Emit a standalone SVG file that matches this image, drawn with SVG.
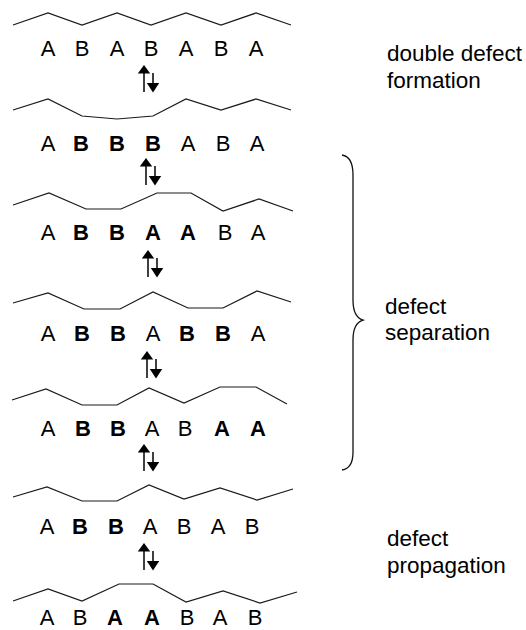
<svg xmlns="http://www.w3.org/2000/svg" xmlns:xlink="http://www.w3.org/1999/xlink" width="526" height="630" viewBox="0 0 526 630">
<style>
text{font-family:"Liberation Sans",Arial,Helvetica,sans-serif;fill:#000}
.r text{font-size:22px;text-anchor:middle}
.b{font-weight:bold}
.lbl{font-size:22.5px}
.chain{fill:none;stroke:#1a1a1a;stroke-width:1.2;stroke-linejoin:miter}
.brace{fill:none;stroke:#111;stroke-width:1.3}
</style>
<defs>
<g id="eq">
<line x1="0" y1="7" x2="0" y2="27" stroke="#000" stroke-width="1.5"/>
<polygon points="-6.2,8.5 0,0 6.2,8.5" fill="#000"/>
<line x1="9" y1="8" x2="9" y2="19" stroke="#000" stroke-width="1.5"/>
<polygon points="2.8,18 15.2,18 9,27.5" fill="#000"/>
</g>
</defs>

<g id="chains">
<polyline class="chain" points="13,25 48,13 82,25 117,13 151,25 186,13 221,25 256,13 291,25"/>
<polyline class="chain" points="13,110 48,99 82,116 117,119 153,116 186,99 221,110 256,99 291,110"/>
<polyline class="chain" points="13,205 49,193 86,209 121,209 157,193 191,193 223,211 259,199 293,211"/>
<polyline class="chain" points="13,303 48,293 84,309 120,309 153,292 188,308 223,308 257,291 291,302"/>
<polyline class="chain" points="12,400 46,389 82,405 117,405 149,388 184,403 220,387 256,387 287,404"/>
<polyline class="chain" points="13,497 47,487 82,501 117,501 149,485 184,499 220,488 257,500 293,489"/>
<polyline class="chain" points="13,601 48,589 82,601 119,584 153,584 186,602 223,591 260,603 297,592"/>
</g>

<g id="row1" class="r">
<text x="48" y="56">A</text><text x="82" y="56">B</text><text x="117" y="56">A</text><text x="151" y="56">B</text><text x="186" y="56">A</text><text x="221" y="56">B</text><text x="256" y="56">A</text>
</g>
<g id="row2" class="r">
<text x="48" y="151">A</text><text class="b" x="81" y="151">B</text><text class="b" x="117" y="151">B</text><text class="b" x="153" y="151">B</text><text x="188" y="151">A</text><text x="223" y="151">B</text><text x="257" y="151">A</text>
</g>
<g id="row3" class="r">
<text x="48" y="240">A</text><text class="b" x="81" y="240">B</text><text class="b" x="117" y="240">B</text><text class="b" x="153" y="240">A</text><text class="b" x="188" y="240">A</text><text x="225" y="240">B</text><text x="258" y="240">A</text>
</g>
<g id="row4" class="r">
<text x="48" y="341">A</text><text class="b" x="82" y="341">B</text><text class="b" x="118" y="341">B</text><text x="153" y="341">A</text><text class="b" x="187" y="341">B</text><text class="b" x="223" y="341">B</text><text x="258" y="341">A</text>
</g>
<g id="row5" class="r">
<text x="48" y="436">A</text><text class="b" x="83" y="436">B</text><text class="b" x="118" y="436">B</text><text x="152" y="436">A</text><text x="185" y="436">B</text><text class="b" x="222" y="436">A</text><text class="b" x="258" y="436">A</text>
</g>
<g id="row6" class="r">
<text x="47" y="534">A</text><text class="b" x="80" y="534">B</text><text class="b" x="116" y="534">B</text><text x="150" y="534">A</text><text x="184" y="534">B</text><text x="218" y="534">A</text><text x="252" y="534">B</text>
</g>
<g id="row7" class="r">
<text x="47" y="625">A</text><text x="80" y="625">B</text><text class="b" x="115" y="625">A</text><text class="b" x="152" y="625">A</text><text x="187" y="625">B</text><text x="220" y="625">A</text><text x="255" y="625">B</text>
</g>

<g id="connectors">
<use xlink:href="#eq" href="#eq" transform="translate(144,65)"/>
<use xlink:href="#eq" href="#eq" transform="translate(146,158)"/>
<use xlink:href="#eq" href="#eq" transform="translate(148,250)"/>
<use xlink:href="#eq" href="#eq" transform="translate(147,351)"/>
<use xlink:href="#eq" href="#eq" transform="translate(144,444)"/>
<use xlink:href="#eq" href="#eq" transform="translate(144,543)"/>
</g>

<g id="brace">
<path class="brace" d="M342,155 C349,156 353,162 353,175 L353,300 C353,312 356,318 363,320 C356,322 353,328 353,340 L353,452 C353,464 349,469 342,470"/>
</g>

<g id="label-formation">
<text class="lbl" x="387" y="61">double defect</text>
<text class="lbl" x="387" y="88">formation</text>
</g>
<g id="label-separation">
<text class="lbl" x="385" y="314">defect</text>
<text class="lbl" x="385" y="340">separation</text>
</g>
<g id="label-propagation">
<text class="lbl" x="387" y="546">defect</text>
<text class="lbl" x="387" y="573">propagation</text>
</g>
</svg>
